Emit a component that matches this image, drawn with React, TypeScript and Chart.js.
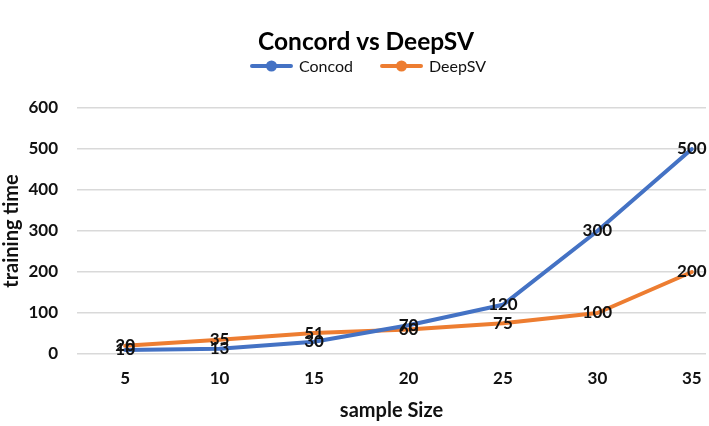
import React, { useEffect, useRef } from 'react';
import { Chart, registerables } from 'chart.js';

Chart.register(...registerables);

const categories = [5, 10, 15, 20, 25, 30, 35];
const concodValues = [10, 13, 30, 70, 120, 300, 500];
const deepsvValues = [20, 35, 51, 60, 75, 100, 200];
const seriesNames = ['Concod', 'DeepSV'];
const seriesColors = ['#4472C4', '#ED7D31'];
const yTickValues = [0, 100, 200, 300, 400, 500, 600];
const chartTitle = 'Concord vs DeepSV';

const FONT = 'Lato, "Open Sans", sans-serif';

const valueLabels = {
  id: 'valueLabels',
  afterDatasetsDraw(chart: any) {
    const ctx = chart.ctx;
    ctx.save();
    ctx.font = `bold 17px ${FONT}`;
    ctx.fillStyle = '#111';
    ctx.textAlign = 'center';
    ctx.textBaseline = 'middle';
    chart.data.datasets.forEach((ds: any, di: number) => {
      const meta = chart.getDatasetMeta(di);
      meta.data.forEach((pt: any, i: number) => {
        ctx.fillText(String(ds.data[i].y), pt.x, pt.y);
      });
    });
    ctx.restore();
  },
};

const headerPlugin = {
  id: 'header',
  afterDraw(chart: any) {
    const ctx = chart.ctx;
    ctx.save();
    // title
    ctx.font = `bold 24.5px ${FONT}`;
    ctx.fillStyle = '#000';
    ctx.textAlign = 'center';
    ctx.textBaseline = 'middle';
    ctx.fillText(chartTitle, 366, 42);
    // legend
    ctx.font = `16px ${FONT}`;
    const markerW = 43;
    const gapText = 6;
    const gapItem = 27;
    const widths = seriesNames.map((n) => ctx.measureText(n).width);
    const total = widths.reduce((a, w) => a + markerW + gapText + w, 0) + gapItem * (seriesNames.length - 1);
    let x = 368 - total / 2;
    const y = 66;
    seriesNames.forEach((n, i) => {
      const c = seriesColors[i];
      ctx.strokeStyle = c;
      ctx.lineWidth = 4;
      ctx.lineCap = 'round';
      ctx.beginPath();
      ctx.moveTo(x + 2, y);
      ctx.lineTo(x + markerW - 2, y);
      ctx.stroke();
      ctx.fillStyle = c;
      ctx.beginPath();
      ctx.arc(x + markerW / 2, y, 5.5, 0, Math.PI * 2);
      ctx.fill();
      ctx.fillStyle = '#111';
      ctx.textAlign = 'left';
      ctx.fillText(n, x + markerW + gapText, y + 1);
      x += markerW + gapText + widths[i] + gapItem;
    });
    ctx.restore();
  },
};

export default function App() {
  const ref = useRef<HTMLCanvasElement>(null);

  useEffect(() => {
    const chart = new Chart(ref.current!, {
      type: 'line',
      data: {
        datasets: [concodValues, deepsvValues].map((vals, si) => ({
          label: seriesNames[si],
          data: categories.map((c, i) => ({ x: c, y: vals[i] })),
          borderColor: seriesColors[si],
          backgroundColor: seriesColors[si],
          borderWidth: 4,
          pointRadius: 0,
          tension: 0,
          borderJoinStyle: 'round' as const,
          borderCapStyle: 'round' as const,
        })),
      },
      options: {
        responsive: false,
        animation: false,
        layout: { autoPadding: false, padding: { left: 0, right: 3, top: 108, bottom: 0 } },
        plugins: {
          title: { display: false },
          legend: { display: false },
          tooltip: { enabled: false },
        },
        scales: {
          x: {
            type: 'linear',
            min: 2.45,
            max: 35.75,
            afterBuildTicks: (scale: any) => {
              scale.ticks = categories.map((v) => ({ value: v }));
            },
            afterFit: (scale: any) => {
              scale.height = 72;
              scale.paddingLeft = 0;
              scale.paddingRight = 0;
              scale.paddingTop = 0;
              scale.paddingBottom = 0;
            },
            grid: { display: false, drawTicks: false },
            border: { display: false },
            ticks: {
              color: '#111',
              font: { family: FONT, size: 17, weight: 'bold' },
              padding: 14,
              maxRotation: 0,
              autoSkip: false,
              callback: (v: any) => String(v),
            },
            title: {
              display: true,
              text: 'sample Size',
              color: '#111',
              font: { family: FONT, size: 20, weight: 'bold' },
              padding: { top: 0, bottom: 3 },
            },
          },
          y: {
            min: 0,
            max: 600,
            afterBuildTicks: (scale: any) => {
              scale.ticks = yTickValues.map((v) => ({ value: v }));
            },
            afterFit: (scale: any) => {
              scale.width = 77;
              scale.paddingTop = 0;
              scale.paddingBottom = 0;
            },
            grid: { color: '#d9d9d9', lineWidth: 1.5, drawTicks: false },
            border: { display: false },
            ticks: {
              color: '#111',
              font: { family: FONT, size: 17, weight: 'bold' },
              padding: 19,
            },
            title: {
              display: true,
              text: 'training time',
              color: '#111',
              font: { family: FONT, size: 20, weight: 'bold' },
              padding: { top: 0, bottom: 0 },
            },
          },
        },
      },
      plugins: [valueLabels, headerPlugin],
    } as any);
    return () => chart.destroy();
  }, []);

  return (
    <div
      style={{
        position: 'fixed',
        left: 0,
        top: 0,
        width: 709,
        height: 426,
        overflow: 'hidden',
        background: '#fff',
      }}
    >
      <canvas ref={ref} width={709} height={426} style={{ width: 709, height: 426, display: 'block' }} />
    </div>
  );
}
